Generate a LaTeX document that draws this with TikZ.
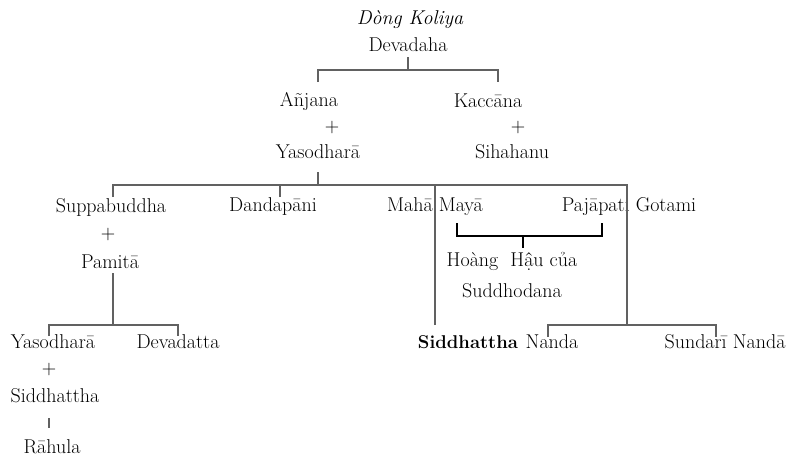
\documentclass[tikz,border=0pt]{standalone}
\usepackage{tikz}

\begin{document}
\begin{tikzpicture}[x=1pt,y=-1pt]
          \tikzstyle{every node}=[inner sep=0pt,font=\fontsize{20}{24}\selectfont]
          \tikzstyle{famline}=[draw=black!62,line width=1.3pt]
          \tikzstyle{bracketline}=[draw=black,line width=2.6pt]
          \useasboundingbox (0,0) rectangle (791,458);
          %
          \node (koliya) at (410,20)  {\itshape Dòng Koliya};
          \node (deva)   at (408,45)  {Devadaha};
          \node (anjana) at (309,101) {Añjana};
          \node (plusA)  at (332,128) {+};
          \node (yaso)   at (318,152) {Yasodharā};
          \node (kacc)   at (488,101) {Kaccāna};
          \node (plusK)  at (518,128) {+};
          \node (siha)   at (512,152) {Sihahanu};
          %
          \node (suppa)  at (111,207) {Suppabuddha};
          \node (plusS)  at (108,235) {+};
          \node (pamita) at (110,262) {Pamitā};
          \node (danda)  at (273,207) {Dandapāni};
          \node (maya)   at (435,207) {Mahā Mayā};
          \node (pajap)  at (629,207) {Pajāpati Gotami};
          \node (hoang)  at (512,261) {Hoàng\ \ Hậu của};
          \node (suddho) at (512,291) {Suddhodana};
          %
          \node (yasoB)  at (53,342)  {Yasodharā};
          \node (devad)  at (178,342) {Devadatta};
          \node (plusY)  at (49,370)  {+};
          \node (sidd)   at (55,396)  {Siddhattha};
          \node (rahula) at (52,447)  {Rāhula};
          \node (siddB)  at (468,342) {\fontsize{18.5}{22}\selectfont\bfseries Siddhattha};
          \node (nanda)  at (552,342) {Nanda};
          \node (sund)   at (725,342) {Sundarī Nandā};
          %
          \coordinate (d1) at (408,57);  \coordinate (b1) at (408,70);
          \coordinate (a1) at (318,82);  \coordinate (k1) at (498,82);
          \coordinate (y1) at (318,172); \coordinate (b2) at (318,185);
          \coordinate (s1) at (113,197); \coordinate (n1) at (280,197);
          \coordinate (m1) at (435,325); \coordinate (g1) at (627,325);
          \coordinate (p1) at (113,273); \coordinate (b3) at (113,325);
          \coordinate (yb) at (49,336);  \coordinate (dv) at (178,336);
          \coordinate (na) at (548,337); \coordinate (su) at (716,337);
          \coordinate (r1) at (49,418);  \coordinate (r2) at (49,428);
          \coordinate (ml) at (457,223); \coordinate (pr) at (602,223);
          \coordinate (bm) at (523,236); \coordinate (bt) at (523,248);
          %
          \path[famline]
          (d1) -- (b1)
          (a1) |- (b1) -| (k1)
          (y1) -- (b2)
          (s1) |- (b2) -| (g1)
          (n1) -- (n1 |- b2)
          (m1) -- (m1 |- b2)
          (na) |- (g1) -| (su)
          (p1) -- (b3)
          (yb) |- (b3) -| (dv)
          (r1) -- (r2);
          \path[bracketline]
          (ml) |- (bm) -| (pr)
          (bm) -- (bt);
        \end{tikzpicture}
\end{document}
